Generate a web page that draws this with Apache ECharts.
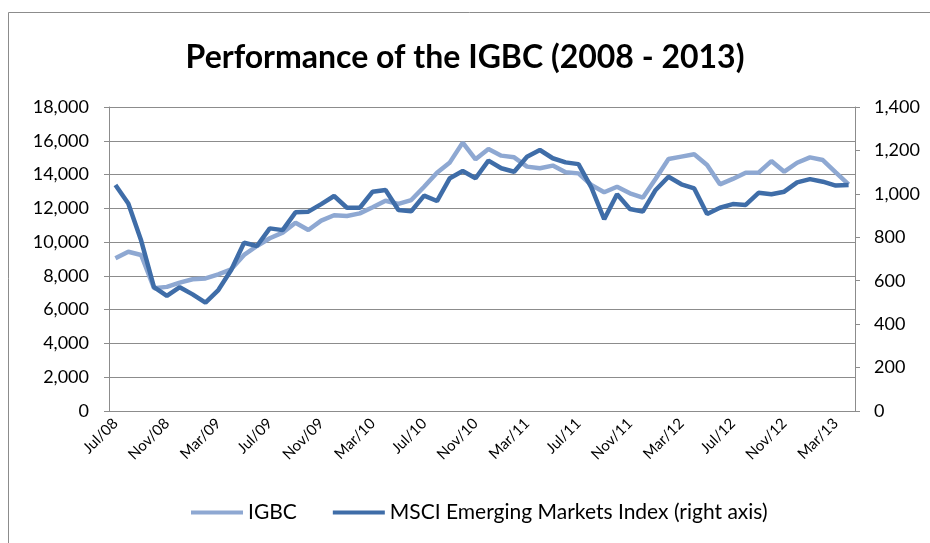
<!DOCTYPE html>
<html>
<head>
<meta charset="utf-8">
<script src="https://cdn.jsdelivr.net/npm/echarts@6/dist/echarts.min.js"></script>
<style>html,body{margin:0;padding:0;background:#fff}#c{width:930px;height:543px}</style>
</head>
<body>
<div id="c"></div>
<script>
const months = ['Jul/08','Aug/08','Sep/08','Oct/08','Nov/08','Dec/08','Jan/09','Feb/09','Mar/09','Apr/09','May/09','Jun/09',
  'Jul/09','Aug/09','Sep/09','Oct/09','Nov/09','Dec/09','Jan/10','Feb/10','Mar/10','Apr/10','May/10','Jun/10',
  'Jul/10','Aug/10','Sep/10','Oct/10','Nov/10','Dec/10','Jan/11','Feb/11','Mar/11','Apr/11','May/11','Jun/11',
  'Jul/11','Aug/11','Sep/11','Oct/11','Nov/11','Dec/11','Jan/12','Feb/12','Mar/12','Apr/12','May/12','Jun/12',
  'Jul/12','Aug/12','Sep/12','Oct/12','Nov/12','Dec/12','Jan/13','Feb/13','Mar/13','Apr/13'];
const igbc = [9040,9430,9240,7270,7350,7600,7800,7850,8090,8390,9240,9770,
  10230,10560,11150,10720,11270,11590,11550,11700,12060,12450,12260,12490,
  13280,14110,14720,15890,14900,15510,15120,15020,14470,14370,14530,14130,
  14070,13380,12950,13280,12890,12630,13750,14920,15060,15200,14570,13420,
  13740,14110,14110,14800,14170,14700,15020,14860,14130,13420];
const msci = [1041,956,785,570,530,570,537,499,557,649,775,760,
  841,833,915,918,953,990,936,936,1010,1018,926,920,
  992,967,1072,1105,1072,1153,1118,1102,1171,1202,1164,1145,
  1137,1030,883,998,930,918,1018,1079,1044,1025,907,936,
  953,949,1005,998,1010,1053,1068,1056,1038,1041];
const leftTicks = {min:0, max:18000, interval:2000};
const rightTicks = {min:0, max:1400, interval:200};

const fmt = v => Number(v).toLocaleString('en-US');
const FONT = 'Lato, "Open Sans", sans-serif';
const chart = echarts.init(document.getElementById('c'), null, {renderer:'canvas'});
chart.setOption({
  backgroundColor:'#ffffff',
  animation:false,
  graphic:[{type:'rect', shape:{x:8.5,y:12.5,width:930,height:540}, style:{fill:'none', stroke:'#8c8c8c', lineWidth:1}, z:-1}],
  title:{text:'Performance of the IGBC (2008 - 2013)', left:'center', top:37,
    textStyle:{fontFamily:FONT, fontWeight:'bold', fontSize:32, color:'#000'}},
  legend:{bottom:15, left:186, itemGap:36, itemWidth:52, itemHeight:4, icon:'rect',
    textStyle:{fontFamily:FONT, fontSize:21, color:'#000'},
    data:['IGBC','MSCI Emerging Markets Index (right axis)']},
  grid:{left:109, right:75, top:107, bottom:132, containLabel:false},
  xAxis:{type:'category', data:months, boundaryGap:true,
    axisLine:{lineStyle:{color:'#8c8c8c', width:1}},
    axisTick:{interval:3, length:5, lineStyle:{color:'#8c8c8c'}},
    axisLabel:{interval:3, rotate:45, fontFamily:FONT, fontSize:15, color:'#000', margin:10}},
  yAxis:[
    {type:'value', min:leftTicks.min, max:leftTicks.max, interval:leftTicks.interval,
     axisLine:{show:true, lineStyle:{color:'#8c8c8c'}},
     axisTick:{show:true, length:5, lineStyle:{color:'#8c8c8c'}},
     splitLine:{lineStyle:{color:'#8c8c8c', width:1}},
     axisLabel:{formatter:fmt, fontFamily:FONT, fontSize:18, color:'#000', margin:20}},
    {type:'value', min:rightTicks.min, max:rightTicks.max, interval:rightTicks.interval, position:'right',
     axisLine:{show:true, lineStyle:{color:'#8c8c8c'}},
     axisTick:{show:true, length:5, lineStyle:{color:'#8c8c8c'}},
     splitLine:{show:false},
     axisLabel:{formatter:fmt, fontFamily:FONT, fontSize:18, color:'#000', margin:19}}
  ],
  series:[
    {name:'IGBC', type:'line', data:igbc, yAxisIndex:0, symbol:'none',
     lineStyle:{color:'#8EA8D2', width:4.5}, itemStyle:{color:'#8EA8D2'}},
    {name:'MSCI Emerging Markets Index (right axis)', type:'line', data:msci, yAxisIndex:1, symbol:'none',
     lineStyle:{color:'#3F6DA8', width:4.5}, itemStyle:{color:'#3F6DA8'}}
  ]
});
</script>
</body>
</html>
